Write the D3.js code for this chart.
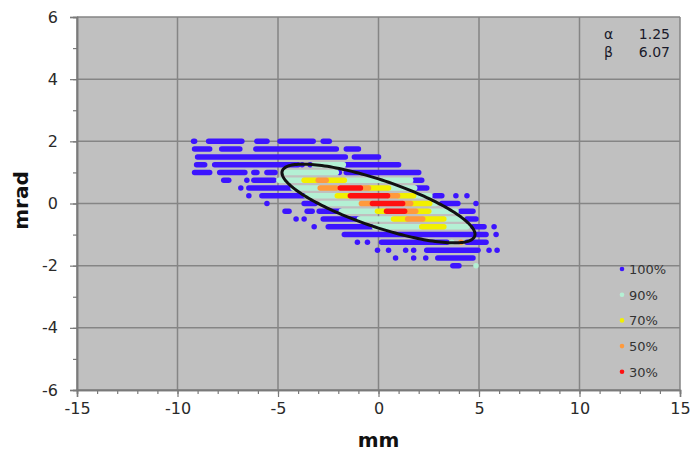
<!DOCTYPE html>
<html>
<head>
<meta charset="utf-8">
<script src="https://cdn.jsdelivr.net/npm/d3@7"></script>
<style>
  html, body { margin: 0; padding: 0; background: #fff; }
  svg { display: block; font-family: "DejaVu Sans", Verdana, sans-serif; }
</style>
</head>
<body>
<svg id="chart" width="692" height="451"></svg>
<script>
// Axis ticks
const xTicks = [-15, -10, -5, 0, 5, 10, 15];
const yTicks = [-6, -4, -2, 0, 2, 4, 6];
const xMinor = d3.range(-15, 16, 1);
const yMinor = d3.range(-6, 7, 1);

// Legend
const legendLabels = ["100%", "90%", "70%", "50%", "30%"];
const levelColors = ["#3c14ff", "#b4f0d4", "#f2f000", "#ff9a3c", "#ff1010"];

// Twiss parameters and emittance of the drawn ellipse
const twissAlpha = 1.25;
const twissBeta = 6.07;
const emittance = 3.8;

// Particle runs per density level: [x' (mrad), x from (mm), x to (mm)]
const runs100 = [
  [2, -9.2, -9.15], [2, -8.45, -6.8], [2, -6.05, -5.55], [2, -4.9, -3.25], [2, -2.75, -2.45],
  [1.75, -9.15, -8.4], [1.75, -7.8, -6.9], [1.75, -6.1, -2.1], [1.75, -1.6, -1.0],
  [1.5, -9.0, -1.65], [1.5, -1.2, 0.0],
  [1.25, -9.05, -8.65], [1.25, -8.15, -4.0], [1.25, -3.8, -3.8], [1.25, -3.4, -3.4], [1.25, -1.6, 1.0],
  [1, -9.15, -8.4], [1, -7.9, -6.65], [1, -6.2, -6.05], [1, -5.55, -5.15], [1, -1.95, -1.95], [1, -1.6, 2.0],
  [0.75, -7.7, -7.45], [0.75, -6.55, -6.55], [0.75, -6.2, -5.2], [0.75, 1.8, 2.15],
  [0.5, -6.85, -6.85], [0.5, -6.45, -4.35], [0.5, 1.9, 2.4],
  [0.25, -6.45, -6.45], [0.25, -5.8, -3.7], [0.25, 2.8, 3.15], [0.25, 3.85, 3.85], [0.25, 4.4, 4.4],
  [0, -5.55, -5.55], [0, -3.7, -3.15], [0, 3.15, 3.95], [0, 4.85, 4.85],
  [-0.25, -4.65, -4.45], [-0.25, -3.55, -3.3], [-0.25, -2.95, -1.9], [-0.25, 4.1, 4.7],
  [-0.5, -4.1, -4.1], [-0.5, -3.7, -3.7], [-0.5, -2.75, -1.0], [-0.5, 4.4, 4.85],
  [-0.75, -3.2, -3.2], [-0.75, -2.5, -0.35], [-0.75, 4.7, 5.25], [-0.75, 5.75, 5.75],
  [-1, -1.7, 5.35], [-1, 5.85, 5.85],
  [-1.25, -1.05, -1.05], [-1.25, -0.55, -0.55], [-1.25, 0.15, 3.4], [-1.25, 4.4, 5.35],
  [-1.5, -0.05, -0.05], [-1.5, 0.5, 0.5], [-1.5, 1.35, 1.35], [-1.5, 1.75, 1.75], [-1.5, 2.4, 4.95], [-1.5, 5.5, 5.5], [-1.5, 5.9, 5.9],
  [-1.75, 0.85, 0.85], [-1.75, 1.75, 1.75], [-1.75, 2.35, 2.35], [-1.75, 2.95, 4.7],
  [-2, 3.7, 4.0]
];
const runs90 = [
  [1.25, -3.2, -1.75],
  [1, -4.7, -2.1],
  [0.75, -4.95, -3.8], [0.75, -1.6, 1.6],
  [0.5, -4.25, -3.0], [0.5, 0.55, 1.8],
  [0.25, -3.6, -2.1], [0.25, 1.8, 2.55],
  [0, -2.85, -1.0], [0, 2.6, 2.85],
  [-0.25, -1.85, -0.1], [-0.25, 2.55, 3.85],
  [-0.5, -0.95, 0.7], [-0.5, 3.35, 4.15],
  [-0.75, -0.2, 2.1], [-0.75, 3.35, 4.4],
  [-1.25, 3.65, 3.65],
  [-2, 4.85, 4.85]
];
const runs70 = [
  [0.75, -3.7, -3.1], [0.75, -2.5, -1.7],
  [0.5, -0.45, 0.5],
  [0.25, -2.05, -1.45], [0.25, 1.0, 1.75],
  [0, 1.65, 2.55],
  [-0.25, -0.05, 0.35], [-0.25, 1.9, 2.5],
  [-0.5, 0.75, 1.4], [-0.5, 2.25, 3.25],
  [-0.75, 2.15, 3.25]
];
const runs50 = [
  [0.75, -3.0, -2.6],
  [0.5, -2.9, -2.1], [0.5, -0.85, -0.5],
  [0.25, 0.5, 0.95],
  [0, -0.85, -0.35], [0, 1.25, 1.6],
  [-0.25, 1.35, 1.85],
  [-0.5, 1.45, 2.2],
  [-1.25, 4.1, 4.1]
];
const runs30 = [
  [0.5, -1.9, -0.9],
  [0.25, -1.4, 0.45],
  [0, -0.3, 1.2],
  [-0.25, 0.4, 1.3]
];

const svg = d3.select("#chart");
const x = d3.scaleLinear().domain([-15, 15]).range([77, 680]);
const y = d3.scaleLinear().domain([-6, 6]).range([390, 17]);

// Plot background
svg.append("rect")
  .attr("x", x(-15)).attr("y", y(6))
  .attr("width", x(15) - x(-15)).attr("height", y(-6) - y(6))
  .attr("fill", "#c0c0c0");

// Grid
const grid = svg.append("g").attr("stroke", "#858585").attr("stroke-width", 1.5);
grid.selectAll("line.gx").data(xTicks).join("line")
  .attr("x1", d => x(d)).attr("x2", d => x(d))
  .attr("y1", y(6)).attr("y2", y(-6));
grid.selectAll("line.gy").data(yTicks).join("line")
  .attr("x1", x(-15)).attr("x2", x(15))
  .attr("y1", d => y(d)).attr("y2", d => y(d));

// Axes: minor ticks, then major ticks with labels
function styleAxis(g) {
  g.select(".domain").attr("stroke", "#7a7a7a").attr("stroke-width", 1.5);
  g.selectAll(".tick line").attr("stroke", "#7a7a7a").attr("stroke-width", 1.2);
  g.selectAll(".tick text").attr("fill", "#2a2a2a").attr("font-size", 16)
    .attr("font-family", "'DejaVu Sans', Verdana, sans-serif");
}
svg.append("g").attr("transform", `translate(0,${y(-6)})`)
  .call(d3.axisBottom(x).tickValues(xMinor).tickSize(4).tickFormat(""))
  .call(styleAxis);
svg.append("g").attr("transform", `translate(0,${y(-6)})`)
  .call(d3.axisBottom(x).tickValues(xTicks).tickSize(7).tickPadding(6).tickFormat(d => String(d)))
  .call(styleAxis);
svg.append("g").attr("transform", `translate(${x(-15)},0)`)
  .call(d3.axisLeft(y).tickValues(yMinor).tickSize(4).tickFormat(""))
  .call(styleAxis);
svg.append("g").attr("transform", `translate(${x(-15)},0)`)
  .call(d3.axisLeft(y).tickValues(yTicks).tickSize(7).tickPadding(12).tickFormat(d => String(d)))
  .call(styleAxis);

// Axis titles
svg.append("text")
  .attr("x", x(0)).attr("y", 447)
  .attr("text-anchor", "middle")
  .attr("font-size", 20).attr("font-weight", "bold").attr("fill", "#111")
  .text("mm");
svg.append("text")
  .attr("transform", `translate(28,${y(0) - 3}) rotate(-90)`)
  .attr("text-anchor", "middle")
  .attr("font-size", 20).attr("font-weight", "bold").attr("fill", "#111")
  .text("mrad");

// Particle runs, lowest density level first
const dotWidth = 5.5;
const levels = [runs100, runs90, runs70, runs50, runs30];
const dots = svg.append("g").attr("stroke-linecap", "round");
levels.forEach((runs, i) => {
  dots.append("g")
    .selectAll("line").data(runs).join("line")
    .attr("x1", d => x(d[1]) - 0.01).attr("x2", d => x(d[2]) + 0.01)
    .attr("y1", d => y(d[0])).attr("y2", d => y(d[0]))
    .attr("stroke", levelColors[i])
    .attr("stroke-width", dotWidth);
});

// Emittance ellipse from the Twiss parameters
const phases = d3.range(0, 361, 2).map(a => a * Math.PI / 180);
const ellipse = phases.map(p => [
  Math.sqrt(emittance * twissBeta) * Math.cos(p),
  -Math.sqrt(emittance / twissBeta) * (twissAlpha * Math.cos(p) + Math.sin(p))
]);
svg.append("path")
  .datum(ellipse)
  .attr("d", d3.line().x(d => x(d[0])).y(d => y(d[1])).curve(d3.curveLinearClosed))
  .attr("fill", "none").attr("stroke", "#111").attr("stroke-width", 3);

// Twiss parameter readout
const twiss = [["α", twissAlpha.toFixed(2)], ["β", twissBeta.toFixed(2)]];
const tw = svg.append("g").attr("font-size", 14).attr("fill", "#1a1a2a");
twiss.forEach((t, i) => {
  tw.append("text").attr("x", 604).attr("y", 39 + i * 18).text(t[0]);
  tw.append("text").attr("x", 670).attr("y", 39 + i * 18).attr("text-anchor", "end").text(t[1]);
});

// Legend
const legend = svg.append("g").attr("font-size", 13).attr("fill", "#333");
legendLabels.forEach((lab, i) => {
  const ly = 269 + i * 25.7;
  legend.append("circle").attr("cx", 622).attr("cy", ly).attr("r", 2.3).attr("fill", levelColors[i]);
  legend.append("text").attr("x", 629).attr("y", ly + 5).text(lab);
});
</script>
</body>
</html>
